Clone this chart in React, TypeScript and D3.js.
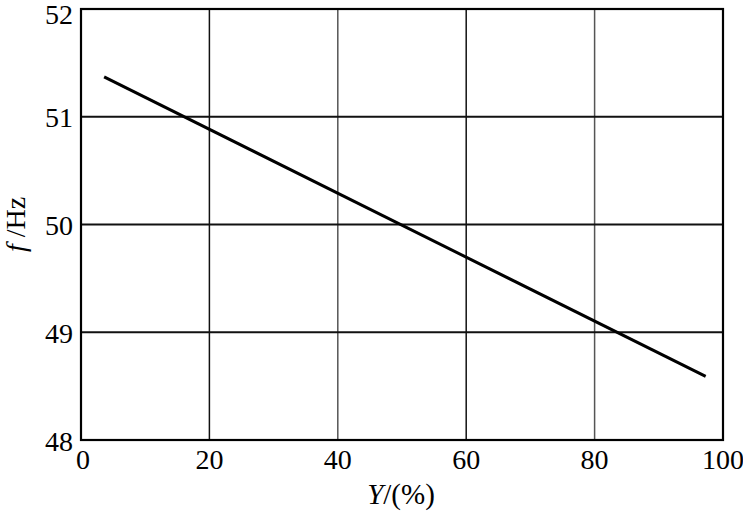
import React from "react";
import * as d3 from "d3";

const xTicks = [0, 20, 40, 60, 80, 100];
const yTicks = [48, 49, 50, 51, 52];
const lightGridX = [40, 80];
const lineX = [3.6, 97.3];
const lineY = [51.37, 48.59];

export default function App() {
  const W = 743, H = 514;
  const m = { left: 81, right: 20, top: 9, bottom: 74 };
  const x = d3.scaleLinear().domain([0, 100]).range([m.left, W - m.right]);
  const y = d3.scaleLinear().domain([48, 52]).range([H - m.bottom, m.top]);
  const pts: [number, number][] = lineX.map((v, i) => [v, lineY[i]]);
  const line = d3.line<[number, number]>().x(d => x(d[0])).y(d => y(d[1]));
  const font = "'Liberation Serif', 'Times New Roman', serif";
  return (
    <svg width={W} height={H} style={{ position: "absolute", left: 0, top: 0, background: "#fff" }}>
      {xTicks.slice(1, -1).map(t => (
        <line key={"gx" + t} x1={x(t)} x2={x(t)} y1={y(52)} y2={y(48)}
          stroke={lightGridX.includes(t) ? "#555" : "#111"} strokeWidth={1.5} />
      ))}
      {yTicks.slice(1, -1).map(t => (
        <line key={"gy" + t} x1={x(0)} x2={x(100)} y1={y(t)} y2={y(t)} stroke="#111" strokeWidth={1.8} />
      ))}
      <rect x={x(0)} y={y(52)} width={x(100) - x(0)} height={y(48) - y(52)} fill="none" stroke="#000" strokeWidth={2.2} />
      <path d={line(pts) || ""} fill="none" stroke="#000" strokeWidth={3} />
      {xTicks.map(t => (
        <text key={"tx" + t} x={x(t) + (t === 0 ? 2 : 0)} y={469} textAnchor="middle" fontFamily={font} fontSize={28} fill="#000">{t}</text>
      ))}
      {yTicks.map(t => (
        <text key={"ty" + t} x={73} y={t === 52 ? y(t) + 14.5 : y(t) + 10.5} textAnchor="end" fontFamily={font} fontSize={28} fill="#000">{t}</text>
      ))}
      <text x={401} y={504} textAnchor="middle" fontFamily={font} fontSize={29} fill="#000">
        <tspan fontStyle="italic">Y</tspan>/(%)
      </text>
      <text transform={`translate(25, ${(y(48) + y(52)) / 2}) rotate(-90)`} textAnchor="middle" fontFamily={font} fontSize={28} fill="#000">
        <tspan fontStyle="italic">f</tspan> /Hz
      </text>
    </svg>
  );
}
